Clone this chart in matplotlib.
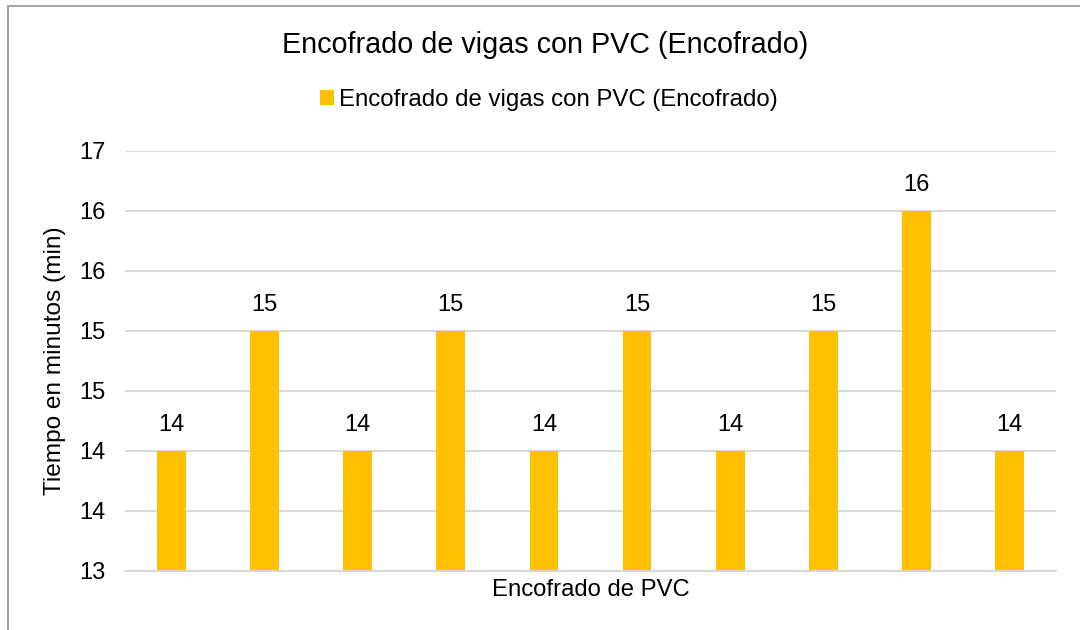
import math
import matplotlib
matplotlib.use('Agg')
import matplotlib.pyplot as plt
from matplotlib.ticker import FuncFormatter, MultipleLocator
from matplotlib.patches import Rectangle

plt.rcParams['font.family'] = ['Liberation Sans', 'DejaVu Sans']

title = 'Encofrado de vigas con PVC (Encofrado)'
series_name = 'Encofrado de vigas con PVC (Encofrado)'
x_label = 'Encofrado de PVC'
y_label = 'Tiempo en minutos (min)'
values = [14, 15, 14, 15, 14, 15, 14, 15, 16, 14]

bar_color = '#FFC000'
grid_color = '#D9D9D9'


def excel_round(v, pos=None):
    # Excel-style rounding (half away from zero) with no decimals
    return str(int(math.floor(v + 0.5)))


fig = plt.figure(figsize=(10.8, 6.3), dpi=100)
ax = fig.add_axes([125 / 1080, 59 / 630, 931 / 1080, 420 / 630])

positions = list(range(len(values)))
bars = ax.bar(positions, values, width=0.31, color=bar_color, zorder=3,
              label=series_name)

for x, v in zip(positions, values):
    ax.annotate(excel_round(v), (x, v), xytext=(0, 18.5), textcoords='offset points',
                ha='center', va='center', fontsize=17, color='#000000')

ax.set_ylim(13, 16.5)
ax.set_xlim(-0.5, len(values) - 0.5)
ax.yaxis.set_major_locator(MultipleLocator(0.5))
ax.yaxis.set_major_formatter(FuncFormatter(excel_round))
ax.set_xticks([])
ax.tick_params(axis='y', length=0, labelsize=17, pad=14, colors='#000000')
ax.grid(axis='y', color=grid_color, linewidth=1.5, zorder=0)

for side in ['top', 'right', 'left']:
    ax.spines[side].set_visible(False)
ax.spines['bottom'].set_color(grid_color)
ax.spines['bottom'].set_linewidth(1.5)
ax.spines['bottom'].set_zorder(4)

fig.text(590.5 / 1080, 1 - 590 / 630, x_label, ha='center', va='center', fontsize=17.2)
fig.text(55 / 1080, 1 - 361 / 630, y_label, ha='center', va='center',
         rotation=90, fontsize=17.6)

fig.text(545 / 1080, 1 - 45 / 630, title, ha='center', va='center', fontsize=20.7)
fig.legend(handles=[bars], labels=[series_name], loc='center',
           bbox_to_anchor=(549 / 1080, 1 - 100 / 630), frameon=False, fontsize=17.3,
           handlelength=0.6, handleheight=0.6, handletextpad=0.2)

# chart border (chart area continues past the right and bottom edges)
fig.patches.append(Rectangle((8 / 1080, -0.1), 1.2, 1.1 - 6 / 630,
                             transform=fig.transFigure, fill=False,
                             edgecolor='#A6A6A6', linewidth=1.5))

fig.savefig('out.png', dpi=100)
